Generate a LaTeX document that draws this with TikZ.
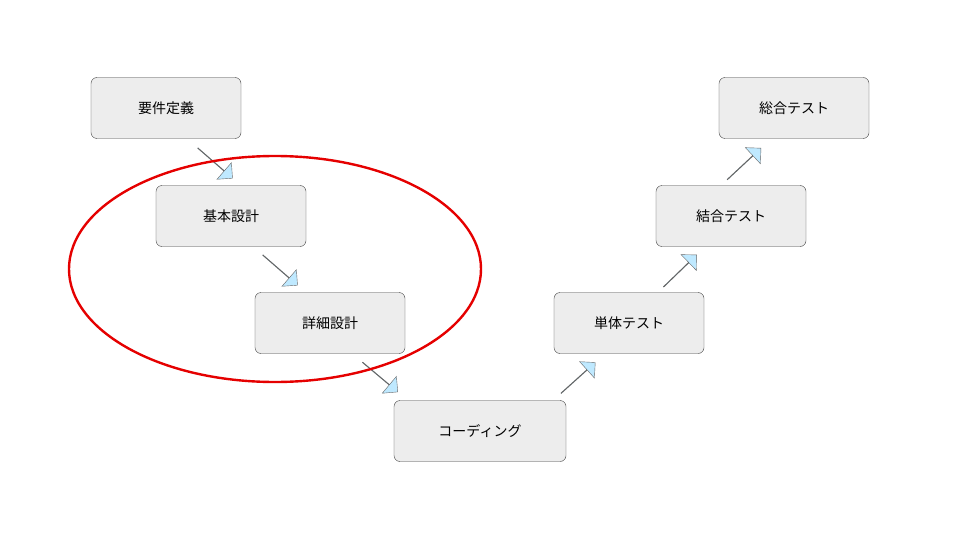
\documentclass[tikz,border=0pt]{standalone}
\usepackage{fontspec}
\setmainfont{Noto Sans CJK JP}
\usetikzlibrary{shapes.arrows}

\begin{document}
\begin{tikzpicture}[
        x=1pt, y=-1pt,
        phase/.style={rectangle, rounded corners=6pt, draw=black!75, fill=black!7,
            minimum height=61pt, font=\fontsize{14}{16}\selectfont},
        blk/.style={single arrow, draw=black!60, fill=blue!35!cyan!25, minimum width=22pt,
            minimum height=46pt, inner sep=0pt, single arrow head extend=6pt,
            single arrow head indent=0pt, text width=9pt}
    ]
        \useasboundingbox (0,0) rectangle (960,540);

        \node[phase, minimum width=150pt] (req) at (166,108) {要件定義};
        \node[phase, minimum width=150pt] (basic) at (231,216) {基本設計};
        \node[phase, minimum width=150pt] (detail) at (330,323) {詳細設計};
        \node[phase, minimum width=172pt] (code) at (480,431) {コーディング};
        \node[phase, minimum width=150pt] (unit) at (629,323) {単体テスト};
        \node[phase, minimum width=150pt] (integ) at (731,216) {結合テスト};
        \node[phase, minimum width=150pt] (sys) at (794,108) {総合テスト};

        % block arrows between the phases
        \node[blk, rotate=-41] (a1) at (215,163) {};
        \node[blk, rotate=-41] (a2) at (280,270) {};
        \node[blk, rotate=-40] (a3) at (380,377) {};
        \node[blk, rotate=42] (a4) at (578,378) {};
        \node[blk, rotate=44] (a5) at (680,271) {};
        \node[blk, rotate=43] (a6) at (744,164) {};

        \draw[red!90!black, line width=2.4pt] (275,269) ellipse [x radius=206, y radius=113];
    \end{tikzpicture}
\end{document}
